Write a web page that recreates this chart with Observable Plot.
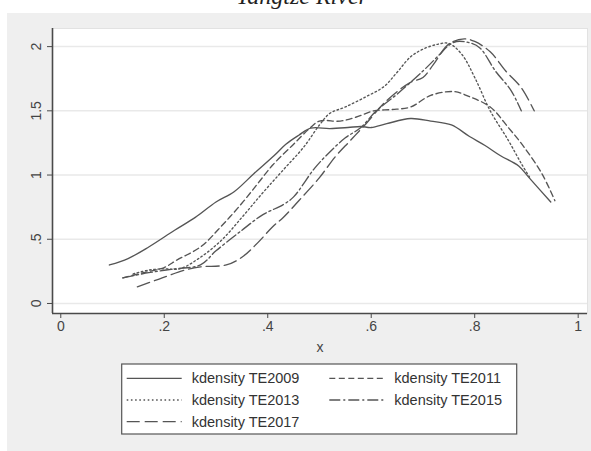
<!DOCTYPE html>
<html><head><meta charset="utf-8">
<script src="https://cdn.jsdelivr.net/npm/d3@7"></script>
<script src="https://cdn.jsdelivr.net/npm/@observablehq/plot@0.6"></script>
<style>
body{margin:0;width:591px;height:451px;overflow:hidden;background:#fff;position:relative;font-family:"Liberation Sans",Arial,sans-serif}
#title{position:absolute;left:0;top:0}
#panel{position:absolute;left:7px;top:13px;width:584px;height:438px;background:#efefef}
#panel svg{display:block}
</style></head><body>
<svg id="title" width="591" height="13"></svg>
<div id="panel"></div>
<script>
const titleText = "Yangtze River";
const xLabel = "x";
const seriesNames = ["kdensity TE2009","kdensity TE2011","kdensity TE2013","kdensity TE2015","kdensity TE2017"];
const xTicks = [0, 0.2, 0.4, 0.6, 0.8, 1];
const xTickLabels = ["0", ".2", ".4", ".6", ".8", "1"];
const yTicks = [0, 0.5, 1, 1.5, 2];
const yTickLabels = ["0", ".5", "1", "1.5", "2"];

const x2009 = [.094,.13,.17,.22,.26,.30,.335,.373,.412,.435,.46,.483,.52,.555,.58,.60,.63,.676,.715,.755,.79,.82,.85,.885,.905,.947];
const y2009 = [.30,.35,.44,.57,.67,.79,.87,1.01,1.15,1.24,1.31,1.365,1.362,1.37,1.378,1.37,1.40,1.44,1.42,1.39,1.30,1.23,1.15,1.07,.98,.79];
const x2011 = [.12,.16,.20,.225,.27,.31,.35,.38,.41,.45,.48,.50,.54,.57,.605,.64,.676,.715,.76,.79,.83,.865,.895,.93,.955];
const y2011 = [.20,.24,.28,.34,.44,.60,.78,.93,1.08,1.24,1.36,1.42,1.42,1.45,1.50,1.51,1.53,1.62,1.65,1.61,1.53,1.37,1.22,1.01,.80];
const x2013 = [.14,.17,.20,.23,.27,.31,.35,.39,.43,.47,.50,.52,.55,.59,.625,.65,.676,.70,.73,.75,.775,.80,.83,.865,.89,.908];
const y2013 = [.23,.26,.27,.27,.36,.49,.67,.86,1.04,1.22,1.39,1.48,1.53,1.61,1.69,1.80,1.92,1.98,2.02,2.025,1.94,1.76,1.50,1.27,1.09,.97];
const x2015 = [.12,.17,.22,.27,.30,.35,.39,.43,.45,.49,.52,.55,.58,.61,.65,.70,.73,.75,.765,.79,.81,.84,.87,.89];
const y2015 = [.20,.24,.27,.30,.41,.57,.69,.77,.83,1.05,1.18,1.29,1.37,1.50,1.63,1.81,1.93,2.01,2.04,2.03,1.99,1.81,1.66,1.50];
const x2017 = [.148,.19,.24,.27,.32,.35,.38,.41,.43,.46,.50,.53,.56,.59,.63,.675,.70,.72,.75,.78,.80,.83,.86,.89,.915];
const y2017 = [.13,.19,.26,.285,.30,.36,.47,.60,.67,.80,.98,1.14,1.27,1.40,1.58,1.72,1.76,1.86,2.02,2.06,2.04,1.96,1.81,1.68,1.50];

const seriesX = [x2009, x2011, x2013, x2015, x2017];
const seriesY = [y2009, y2011, y2013, y2015, y2017];

// styles
const dashes = [null, "6,3.5", "1.6,2.6", "11,3,2,3", "13,5"];
const ink = "#555555";
const xDomain = [-0.016, 1.018];
const yDomain = [-0.078, 2.141];
const font = "Liberation Sans, Arial, sans-serif";

const rows = [];
seriesNames.forEach((name, k) => seriesX[k].forEach((x, i) => rows.push({series: name, x, y: seriesY[k][i]})));

const chart = Plot.plot({
  width: 584, height: 350,
  marginLeft: 45, marginTop: 15, marginRight: 4, marginBottom: 50,
  style: {background: "transparent", fontFamily: font, fontSize: "14px", color: "#444", overflow: "visible"},
  x: {domain: xDomain},
  y: {domain: yDomain},
  marks: [
    Plot.frame({fill: "white", stroke: "#e2e2e2"}),
    Plot.gridY(yTicks, {stroke: "#e9e9e9", strokeOpacity: 1, strokeWidth: 1.5}),
    Plot.ruleX([xDomain[0]], {stroke: "#4a4a4a", strokeWidth: 1.6}),
    Plot.ruleY([yDomain[0]], {stroke: "#4a4a4a", strokeWidth: 1.6}),
    Plot.axisX(xTicks, {tickSize: 5, tickPadding: 3, stroke: "#4a4a4a", tickFormat: (d) => xTickLabels[xTicks.indexOf(d)], label: xLabel, labelAnchor: "center", labelArrow: "none", labelOffset: 38, fill: "#444"}),
    Plot.axisY(yTicks, {tickSize: 5, stroke: "#4a4a4a", tickFormat: () => "", label: null}),
    Plot.text(yTicks, {frameAnchor: "left", y: d => d, text: d => yTickLabels[yTicks.indexOf(d)], rotate: -90, dx: -16, fill: "#444", fontSize: 14, textAnchor: "middle", lineAnchor: "middle"}),
    ...seriesNames.map((name, k) => Plot.line(rows.filter(r => r.series === name), {
      x: "x", y: "y", stroke: ink, strokeWidth: 1.35, strokeDasharray: dashes[k], curve: "catmull-rom"
    }))
  ]
});
document.getElementById("panel").appendChild(chart);

// title (mostly clipped at the top edge, as in the reference)
d3.select("#title").append("text")
  .attr("x", 302).attr("y", 4).attr("text-anchor", "middle")
  .attr("font-family", "Liberation Serif, DejaVu Serif, serif").attr("font-style", "italic")
  .attr("font-size", 24).attr("fill", "#222").text(titleText);

// legend
const leg = d3.select("#panel").append("svg").attr("width", 584).attr("height", 88);
leg.append("rect").attr("x", 114.7).attr("y", 1).attr("width", 395).attr("height", 70)
  .attr("fill", "white").attr("stroke", "#555").attr("stroke-width", 1.2);
seriesNames.forEach((name, k) => {
  const col = k % 2, row = Math.floor(k / 2);
  const x0 = col === 0 ? 119.7 : 322.3;
  const cy = 15.3 + row * 21.7;
  leg.append("line").attr("x1", x0).attr("x2", x0 + 55).attr("y1", cy).attr("y2", cy)
    .attr("stroke", ink).attr("stroke-width", 1.3).attr("stroke-dasharray", dashes[k]);
  leg.append("text").attr("x", x0 + 65).attr("y", cy).attr("dy", "0.35em")
    .attr("font-family", font).attr("font-size", 14.5).attr("fill", "#333").text(name);
});
</script>
</body></html>
